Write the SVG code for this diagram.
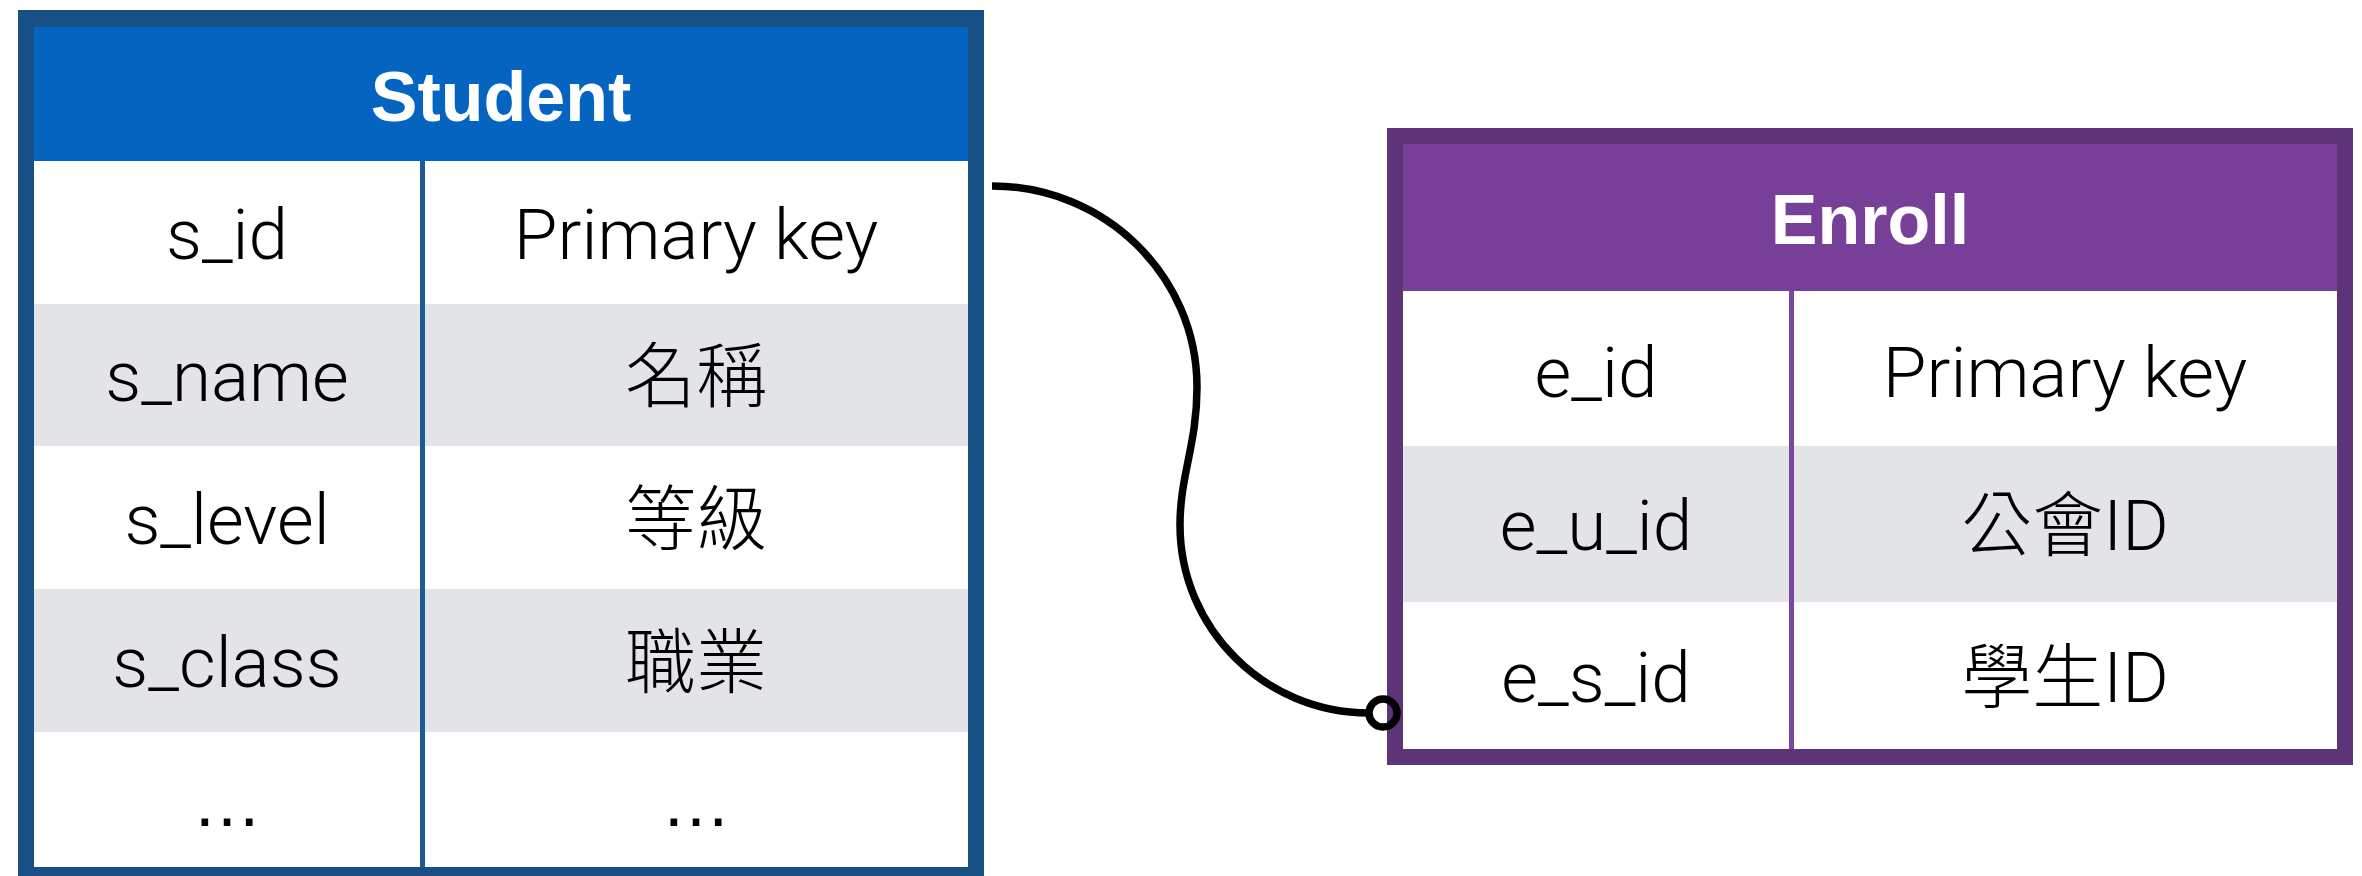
<svg xmlns="http://www.w3.org/2000/svg" width="2362" height="876" viewBox="0 0 2362 876">
  <style>
    .cell { font-family: "Roboto", "Liberation Sans", "Noto Sans CJK TC", sans-serif; font-weight: 300; font-size: 71px; text-anchor: middle; fill: #000; }
    .dots { font-family: "Liberation Sans", sans-serif; font-size: 70px; text-anchor: middle; fill: #000; }
    .title { font-family: "Liberation Sans", "Noto Sans", sans-serif; font-weight: 700; font-size: 70px; text-anchor: middle; fill: #fff; }
    .white { fill: #ffffff; }
    .gray { fill: #e3e4e8; }
    .link { fill: none; stroke: #000; stroke-width: 7.5; }
  </style>
  <rect width="2362" height="876" fill="#ffffff"/>

  <!-- Student table -->
  <g id="student">
    <rect x="18" y="10" width="966" height="880" fill="#184f85"/>
    <rect x="34" y="27" width="934" height="134" fill="#0564bf"/>
    <rect class="white" x="34" y="161" width="934" height="143"/>
    <rect class="gray" x="34" y="304" width="934" height="142"/>
    <rect class="white" x="34" y="446" width="934" height="143"/>
    <rect class="gray" x="34" y="589" width="934" height="143"/>
    <rect class="white" x="34" y="732" width="934" height="135"/>
    <rect x="420" y="161" width="5" height="706" fill="#1f5a94"/>
    <text class="title" x="501" y="121">Student</text>
    <text class="cell" x="227" y="259">s_id</text>
    <text class="cell" x="696" y="259">Primary key</text>
    <text class="cell" x="227" y="401">s_name</text>
    <text class="cell" x="696" y="401">名稱</text>
    <text class="cell" x="227" y="544">s_level</text>
    <text class="cell" x="696" y="544">等級</text>
    <text class="cell" x="227" y="687">s_class</text>
    <text class="cell" x="696" y="687">職業</text>
    <text class="dots" x="227" y="826">…</text>
    <text class="dots" x="696" y="826">…</text>
  </g>

  <!-- Enroll table -->
  <g id="enroll">
    <rect x="1387" y="128" width="966" height="637" fill="#5e3478"/>
    <rect x="1403" y="144" width="934" height="147" fill="#783f99"/>
    <rect class="white" x="1403" y="291" width="934" height="155"/>
    <rect class="gray" x="1403" y="446" width="934" height="156"/>
    <rect class="white" x="1403" y="602" width="934" height="147"/>
    <rect x="1789" y="291" width="5" height="458" fill="#7b45a0"/>
    <text class="title" x="1870" y="244">Enroll</text>
    <text class="cell" x="1596" y="397">e_id</text>
    <text class="cell" x="2065" y="397">Primary key</text>
    <text class="cell" x="1596" y="550">e_u_id</text>
    <text class="cell" x="2065" y="550">公會ID</text>
    <text class="cell" x="1596" y="702">e_s_id</text>
    <text class="cell" x="2065" y="702">學生ID</text>
  </g>

  <!-- Relationship connector -->
  <g id="connectors">
    <path class="link" d="M 992 186 C 1105 186, 1197 276, 1197 387 C 1197 445, 1180 475, 1180 525 C 1180 629, 1265 713, 1369 713"/>
    <circle class="link" cx="1383" cy="713" r="14"/>
  </g>
</svg>
